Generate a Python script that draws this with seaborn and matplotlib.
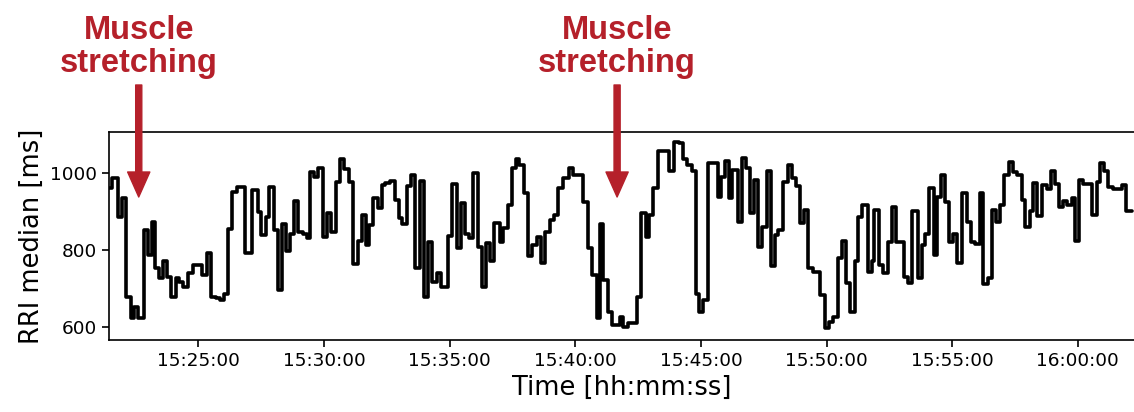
import pandas as pd
import seaborn as sns
import matplotlib.pyplot as plt
import matplotlib.dates as mdates

# seconds after 15:21:00 where each RRI median step starts
t_sec = [
    27, 35, 49, 59, 68, 79, 87, 97, 111, 119, 129, 138, 146, 156, 165,
    176, 186, 194, 204, 216, 228, 248, 260, 270, 282, 292, 302, 312, 320, 332,
    351, 369, 382, 390, 401, 409, 421, 430, 439, 449, 459, 469, 479, 491, 499,
    507, 517, 527, 538, 547, 558, 568, 578, 589, 600, 610, 621, 630, 640,
    648, 658, 668, 678, 687, 698, 710, 719, 727, 738, 748, 757, 769, 780, 789,
    799, 809, 819, 837, 846, 857, 867, 877, 886, 897, 907, 917, 926, 936, 947,
    960, 968, 979, 988, 998, 1006, 1018, 1028, 1037, 1048, 1058, 1069, 1080, 1090,
    1100, 1111, 1125, 1135, 1159, 1170, 1181, 1191, 1199, 1207, 1219, 1227, 1247, 1255,
    1265, 1287, 1297, 1308, 1316, 1326, 1337, 1364, 1376, 1388, 1398, 1408, 1418, 1428,
    1435, 1446, 1456, 1480, 1488, 1498, 1507, 1515, 1528, 1537, 1547, 1557, 1567, 1577,
    1587, 1597, 1607, 1617, 1625, 1637, 1647, 1657, 1666, 1677, 1687, 1696, 1708, 1724, 1736,
    1746, 1756, 1767, 1776, 1786, 1796, 1808, 1816, 1825, 1838, 1848, 1854, 1865, 1875, 1886,
    1896, 1907, 1926, 1935, 1943, 1959, 1967, 1975, 1985, 1997, 2003, 2013, 2023, 2032, 2043,
    2051, 2063, 2075, 2085, 2094, 2106, 2114, 2125, 2134, 2144, 2154, 2164, 2176, 2186,
    2195, 2206, 2214, 2226, 2234, 2243, 2254, 2266, 2275, 2285, 2296, 2305, 2313,
    2325, 2333, 2343, 2353, 2373, 2385, 2393, 2402, 2413, 2425, 2445, 2455, 2469,
]

# RRI median [ms]
rri = [
    961, 987, 887, 935, 678, 622, 652, 622, 852, 787, 874, 752, 726, 770, 730,
    678, 726, 717, 704, 739, 761, 735, 791, 678, 674, 670, 684, 856, 952, 965,
    791, 957, 900, 839, 887, 965, 852, 696, 867, 797, 843, 928, 848, 843, 830,
    1004, 991, 1013, 835, 896, 848, 978, 1037, 1011, 978, 763, 823, 891, 813,
    865, 937, 910, 970, 975, 980, 930, 883, 867, 968, 997, 754, 980, 678, 822,
    717, 739, 704, 837, 971, 806, 922, 841, 832, 1000, 809, 704, 817, 770, 870,
    822, 858, 917, 1013, 1037, 1023, 948, 783, 813, 835, 765, 848, 878, 891,
    961, 987, 1015, 996, 926, 804, 735, 622, 867, 722, 639, 604, 626, 600,
    609, 678, 896, 835, 891, 963, 1058, 1006, 1082, 1078, 1037, 1022, 1006, 684,
    639, 670, 1026, 939, 991, 1032, 935, 1009, 874, 1039, 1013, 896, 983, 809,
    861, 1006, 757, 839, 852, 978, 1022, 987, 968, 870, 904, 752, 743, 683, 596,
    613, 626, 778, 824, 713, 639, 771, 887, 917, 743, 770, 904, 761, 739, 822,
    913, 820, 730, 713, 902, 726, 813, 841, 963, 787, 939, 997, 926, 820, 841,
    765, 950, 872, 820, 815, 950, 710, 726, 904, 874, 917, 996, 1030, 1004,
    996, 930, 861, 902, 974, 889, 970, 959, 1006, 971, 913, 928, 917,
    937, 824, 983, 971, 891, 978, 1026, 1006, 965, 959, 970, 902, 902,
]

# annotated events (seconds after 15:21:00)
event_sec = [98, 1240]
event_label = "Muscle\nstretching"

t0 = pd.Timestamp("2020-01-01 15:21:00")
df = pd.DataFrame({"time": t0 + pd.to_timedelta(t_sec, unit="s"), "rri": rri})

sns.set_style("ticks", {"axes.edgecolor": "black", "text.color": "black",
                        "xtick.color": "black", "ytick.color": "black",
                        "axes.labelcolor": "black"})
plt.rcParams["font.family"] = ["DejaVu Sans"]

fig = plt.figure(figsize=(11.34, 4.12), dpi=100)
ax = fig.add_axes([109 / 1134, 1 - 340 / 412, 1 - 109 / 1134, 208 / 412])

sns.lineplot(data=df, x="time", y="rri", ax=ax, color="black",
             linewidth=2.6, drawstyle="steps-post")

ax.set_xlim(t0 + pd.Timedelta(seconds=27), t0 + pd.Timedelta(seconds=2474))
ax.set_ylim(565, 1108)
ax.set_yticks([600, 800, 1000])
ax.xaxis.set_major_locator(mdates.MinuteLocator(byminute=range(0, 60, 5)))
ax.xaxis.set_major_formatter(mdates.DateFormatter("%H:%M:%S"))

ax.set_xlabel("Time [hh:mm:ss]", fontsize=18.5)
ax.set_ylabel("RRI median [ms]", fontsize=18.5)
ax.tick_params(labelsize=13.3, length=5, width=1.2)
for side in ["left", "bottom", "top"]:
    ax.spines[side].set_linewidth(1.2)
ax.spines["right"].set_visible(False)

red = "#B5202A"
for s in event_sec:
    tx = mdates.date2num(t0 + pd.Timedelta(seconds=s))
    ax.annotate("", xy=(tx, 0.6875), xytext=(tx, 1.226),
                xycoords=("data", "axes fraction"),
                textcoords=("data", "axes fraction"),
                arrowprops=dict(arrowstyle="simple,tail_width=0.22,head_width=0.8,head_length=0.9",
                                mutation_scale=20, color=red, shrinkA=0, shrinkB=0),
                annotation_clip=False)
    ax.text(tx, 1.41, event_label, transform=ax.get_xaxis_transform(),
            ha="center", va="center", color=red, fontsize=23.5,
            fontweight="bold", family=["Liberation Sans", "DejaVu Sans"],
            linespacing=1.1, clip_on=False)

plt.savefig("out.png", dpi=100)
plt.close()
